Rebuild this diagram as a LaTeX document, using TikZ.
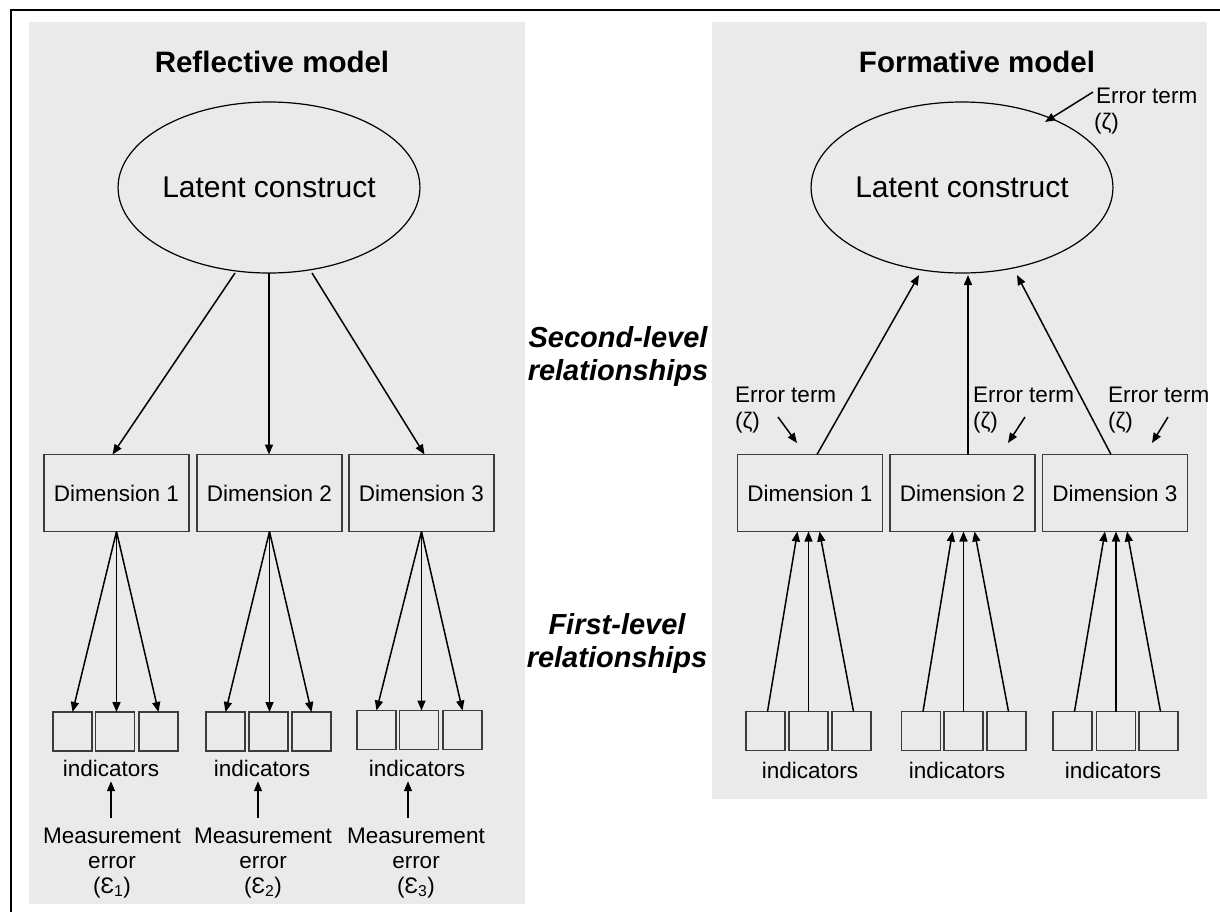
\documentclass[tikz,border=0pt]{standalone}
\usepackage{fontspec}
\setmainfont{Liberation Sans}
\usetikzlibrary{arrows.meta,shapes.geometric,calc}
\definecolor{panel}{RGB}{234,234,234}
\definecolor{boxline}{RGB}{60,60,60}
\begin{document}
\begin{tikzpicture}[x=1pt,y=-1pt,
  every node/.style={inner sep=0pt, outer sep=0pt},
  lat/.style={ellipse, draw=black, line width=1.2pt, minimum width=239pt, minimum height=171pt, font=\fontsize{30}{34}\selectfont},
  dimbox/.style={rectangle, draw=boxline, line width=1.4pt, minimum width=145pt, minimum height=77pt, font=\fontsize{22.5}{26}\selectfont},
  ind/.style={rectangle, draw=boxline, line width=1.4pt, minimum width=39pt, minimum height=39pt},
  lbl/.style={font=\fontsize{22.5}{26}\selectfont, anchor=base},
  lblw/.style={font=\fontsize{22.5}{26}\selectfont, anchor=base west},
  title/.style={font=\fontsize{29.5}{33}\selectfont\bfseries, anchor=base},
  rel/.style={font=\fontsize{29}{33}\selectfont\bfseries\itshape, anchor=base},
  arr/.style={line width=1.5pt, -{Triangle[length=10pt,width=8pt]}},
]
\useasboundingbox (0,0) rectangle (1220,911);
% panels
\fill[panel] (29,22) rectangle (525,904);
\fill[panel] (712,22) rectangle (1207,799);
% frame
\draw[line width=2.5pt] (11,930) -- (11,10) -- (1240,10);

% titles
\node[title] (t1) at (272,72) {Reflective model};
\node[title] (t2) at (977,72) {Formative model};
\node[rel] (s1) at (618,347) {Second-level};
\node[rel] (s2) at (618,380) {relationships};
\node[rel] (f1) at (617,634) {First-level};
\node[rel] (f2) at (617,667) {relationships};

% ===== Reflective =====
\node[lat] (L1) at (269,187.5) {Latent construct};
\node[dimbox] (D1) at (116.5,493) {Dimension 1};
\node[dimbox] (D2) at (269.5,493) {Dimension 2};
\node[dimbox] (D3) at (421.5,493) {Dimension 3};

\draw[arr] ($(L1.south)+(-34,0)$) -- ($(D1.north)+(-4,0)$);
\draw[arr] (L1.south) -- (L1.south |- D2.north);
\draw[arr] ($(L1.south)+(43,0)$) -- ($(D3.north)+(3,0)$);

\node[ind] (I11) at (72.5,731.5) {};
\node[ind] (I12) at (115,731.5) {};
\node[ind] (I13) at (158.5,731.5) {};
\node[ind] (I21) at (225.5,731.5) {};
\node[ind] (I22) at (268.5,731.5) {};
\node[ind] (I23) at (311.5,731.5) {};
\node[ind] (I31) at (376.5,730) {};
\node[ind] (I32) at (419,730) {};
\node[ind] (I33) at (462.5,730) {};

\foreach \d/\g in {D1/1,D2/2,D3/3}{
  \draw[arr] (\d.south) -- (I\g1.north);
  \draw[arr] (\d.south) -- (\d.south |- I\g2.north);
  \draw[arr] (\d.south) -- (I\g3.north);
}

\node[lbl] (n1) at (111,776) {indicators};
\node[lbl] (n2) at (262,776) {indicators};
\node[lbl] (n3) at (417,776) {indicators};

\node[lbl] (m1a) at (112,843) {Measurement};
\node[lbl] (m1b) at (112,868) {error};
\node[lbl] (m1c) at (112,893) {(Ɛ\textsubscript{1})};
\node[lbl] (m2a) at (263,843) {Measurement};
\node[lbl] (m2b) at (263,868) {error};
\node[lbl] (m2c) at (263,893) {(Ɛ\textsubscript{2})};
\node[lbl] (m3a) at (416,843) {Measurement};
\node[lbl] (m3b) at (416,868) {error};
\node[lbl] (m3c) at (416,893) {(Ɛ\textsubscript{3})};

\draw[arr] ($(m1a.north)+(-1,-10)$) -- ($(m1a.north |- n1.south)+(-1,5)$);
\draw[arr] ($(m2a.north)+(-5,-10)$) -- ($(m2a.north |- n2.south)+(-5,5)$);
\draw[arr] ($(m3a.north)+(-8,-10)$) -- ($(m3a.north |- n3.south)+(-8,5)$);

% ===== Formative =====
\node[lat] (L2) at (962,187.5) {Latent construct};
\node[dimbox] (R1) at (810,493) {Dimension 1};
\node[dimbox] (R2) at (962.5,493) {Dimension 2};
\node[dimbox] (R3) at (1115,493) {Dimension 3};

\draw[arr] ($(R1.north)+(7,0)$) -- ($(L2.south)+(-43,2)$);
\draw[arr] ($(R2.north)+(5.5,0)$) -- ($(R2.north |- L2.south)+(5.5,2)$);
\draw[arr] ($(R3.north)+(-4,0)$) -- ($(L2.south)+(55,2)$);

\node[ind] (J11) at (765.5,731) {};
\node[ind] (J12) at (808.5,731) {};
\node[ind] (J13) at (851.5,731) {};
\node[ind] (J21) at (921,731) {};
\node[ind] (J22) at (963.5,731) {};
\node[ind] (J23) at (1006.5,731) {};
\node[ind] (J31) at (1072.5,731) {};
\node[ind] (J32) at (1116,731) {};
\node[ind] (J33) at (1158.5,731) {};

\foreach \d/\g in {R1/1,R2/2,R3/3}{
  \draw[arr] ($(J\g1.north)+(2,0)$) -- ($(J\g2.north |- \d.south)+(-11,0)$);
  \draw[arr] (J\g2.north) -- (J\g2.north |- \d.south);
  \draw[arr] ($(J\g3.north)+(2,0)$) -- ($(J\g2.north |- \d.south)+(11,0)$);
}

\node[lbl] (k1) at (810,778) {indicators};
\node[lbl] (k2) at (957,778) {indicators};
\node[lbl] (k3) at (1113,778) {indicators};

% error terms
\node[lblw] (e0a) at (1096,103) {Error term};
\node[lblw] (e0b) at (1094,129) {(ζ)};
\coordinate (e0s) at (1093,92);
\coordinate (e0t) at (1045,122);
\draw[arr] (e0s) -- (e0t);

\node[lblw] (e1a) at (735,402) {Error term};
\node[lblw] (e1b) at (735,428) {(ζ)};
\node[lblw] (e2a) at (973,402) {Error term};
\node[lblw] (e2b) at (973,428) {(ζ)};
\node[lblw] (e3a) at (1108,402) {Error term};
\node[lblw] (e3b) at (1108,428) {(ζ)};
\coordinate (a1s) at (778,417); \coordinate (a1t) at (797,443);
\coordinate (a2s) at (1025,417); \coordinate (a2t) at (1008,443);
\coordinate (a3s) at (1168,417); \coordinate (a3t) at (1152,443);
\draw[arr] (a1s) -- (a1t);
\draw[arr] (a2s) -- (a2t);
\draw[arr] (a3s) -- (a3t);
\end{tikzpicture}
\end{document}
